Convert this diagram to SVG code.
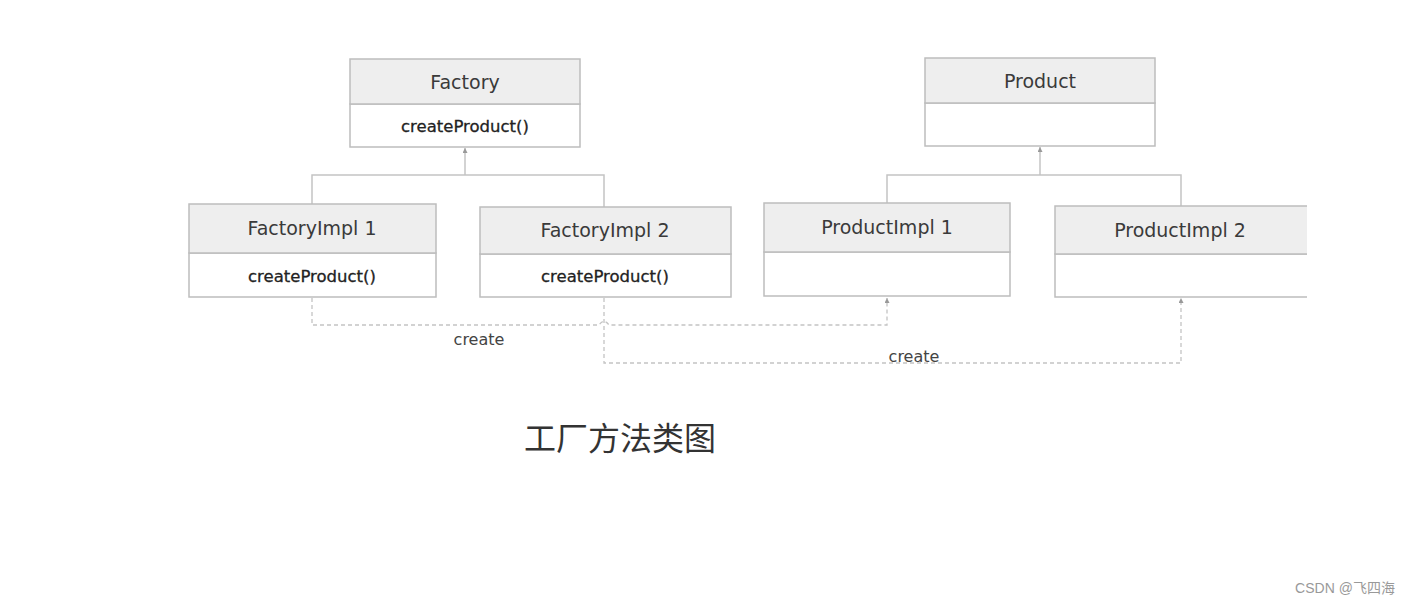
<svg xmlns="http://www.w3.org/2000/svg" width="1410" height="604" viewBox="0 0 1410 604">
<style>
.hd{fill:#eeeeee;stroke:#bdbdbd;stroke-width:1.5}
.bd{fill:#ffffff;stroke:#bdbdbd;stroke-width:1.5}
.nm{font-family:"DejaVu Sans",sans-serif;font-size:19px;fill:#3a3a3a;text-anchor:middle}
.mt{font-family:"DejaVu Sans",sans-serif;font-size:16.5px;fill:#222;text-anchor:middle;stroke:#222;stroke-width:0.3}
.ln{fill:none;stroke:#c4c4c4;stroke-width:1.5}
.ds{fill:none;stroke:#c4c4c4;stroke-width:1.3;stroke-dasharray:4 3}
.lb{font-family:"DejaVu Sans",sans-serif;font-size:16px;fill:#444;text-anchor:middle}
</style>
<defs>
<marker id="ah" viewBox="0 0 6 6" refX="6" refY="3" markerWidth="5" markerHeight="5" markerUnits="userSpaceOnUse" orient="auto">
<path d="M0,0 L6,3 L0,6 Z" fill="#999"/>
</marker>
<clipPath id="clipR"><rect x="0" y="0" width="1307" height="604"/></clipPath>
</defs>
<rect width="1410" height="604" fill="#ffffff"/>

<g id="connectors">
<path class="ln" d="M465,175 V148" marker-end="url(#ah)"/>
<path class="ln" d="M312,204 V175 H604 V207"/>
<path class="ln" d="M1040,175 V147" marker-end="url(#ah)"/>
<path class="ln" d="M887,203 V175 H1181 V206"/>
<path class="ds" d="M312,298 V325 H599 Q604,318 609,325 H887 V298" marker-end="url(#ah)"/>
<path class="ds" d="M604,298 V363 H1181 V298" marker-end="url(#ah)"/>
<text class="lb" x="479" y="345">create</text>
<text class="lb" x="914" y="362">create</text>
</g>

<g id="factory">
<rect class="bd" x="350" y="104" width="230" height="43"/>
<rect class="hd" x="350" y="59" width="230" height="45"/>
<text class="nm" x="465" y="89">Factory</text>
<text class="mt" x="465" y="132">createProduct()</text>
</g>

<g id="factoryimpl1">
<rect class="bd" x="189" y="253" width="247" height="44"/>
<rect class="hd" x="189" y="204" width="247" height="49"/>
<text class="nm" x="312" y="235">FactoryImpl 1</text>
<text class="mt" x="312" y="282">createProduct()</text>
</g>

<g id="factoryimpl2">
<rect class="bd" x="480" y="254" width="251" height="43"/>
<rect class="hd" x="480" y="207" width="251" height="47"/>
<text class="nm" x="605" y="237">FactoryImpl 2</text>
<text class="mt" x="605" y="282">createProduct()</text>
</g>

<g id="product">
<rect class="bd" x="925" y="103" width="230" height="43"/>
<rect class="hd" x="925" y="58" width="230" height="45"/>
<text class="nm" x="1040" y="88">Product</text>
</g>

<g id="productimpl1">
<rect class="bd" x="764" y="252" width="246" height="44"/>
<rect class="hd" x="764" y="203" width="246" height="49"/>
<text class="nm" x="887" y="234">ProductImpl 1</text>
</g>

<g id="productimpl2" clip-path="url(#clipR)">
<rect class="bd" x="1055" y="254" width="270" height="43"/>
<rect class="hd" x="1055" y="206" width="270" height="48"/>
<text class="nm" x="1180" y="237">ProductImpl 2</text>
</g>

<text x="620" y="450" font-family="'Noto Sans CJK SC',sans-serif" font-size="32" fill="#333" text-anchor="middle">工厂方法类图</text>
<text x="1345" y="593" font-family="'Liberation Sans','Noto Sans CJK SC',sans-serif" font-size="14" fill="#999" text-anchor="middle">CSDN @飞四海</text>
</svg>
